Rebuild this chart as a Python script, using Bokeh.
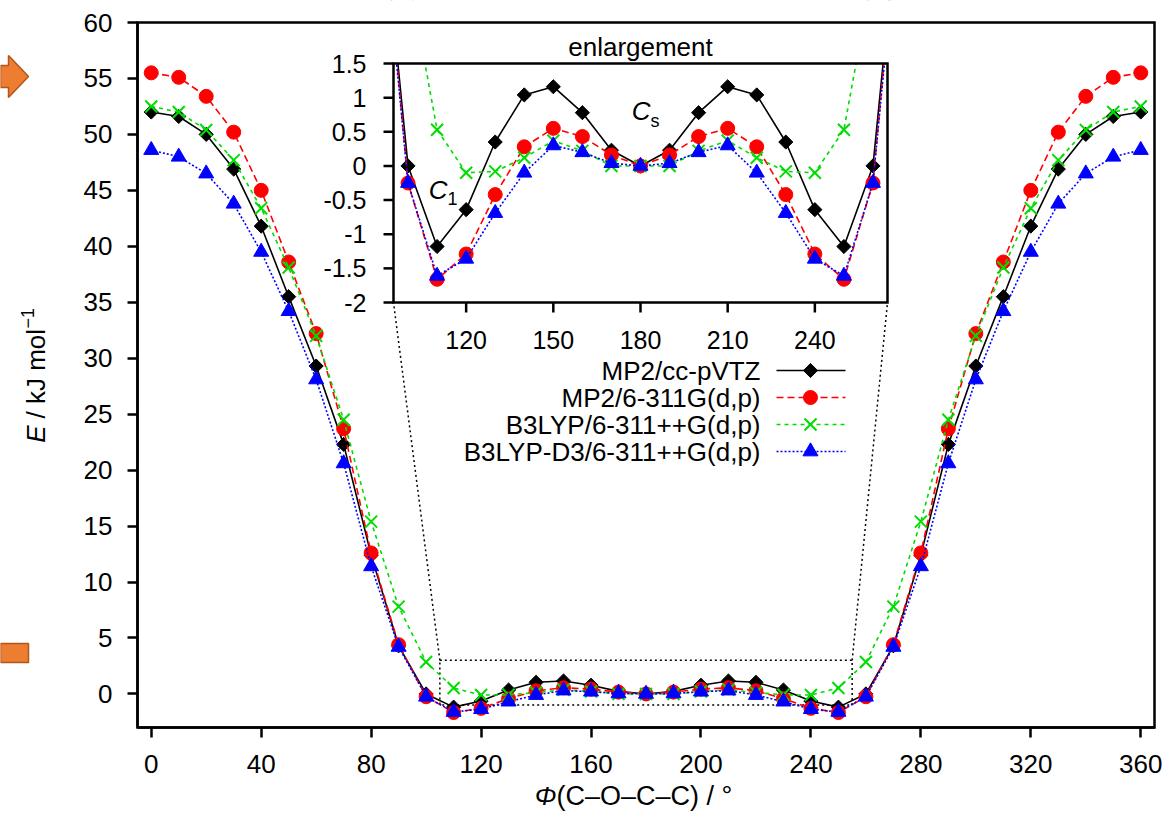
import math
from bokeh.plotting import figure
from bokeh.models import Range1d, FixedTicker
from bokeh.core.properties import value
from bokeh.embed import file_html
from bokeh.resources import INLINE

# ---------------- data ----------------
angle = [0, 10, 20, 30, 40, 50, 60, 70, 80, 90, 100, 110, 120, 130, 140, 150, 160, 170, 180,
         190, 200, 210, 220, 230, 240, 250, 260, 270, 280, 290, 300, 310, 320, 330, 340, 350, 360]

e_mp2_ccpvtz = [52.0, 51.6, 50.0, 46.9, 41.8, 35.5, 29.3, 22.3, 12.4, 4.3, 0.0, -1.18, -0.64, 0.35, 1.04, 1.16, 0.78, 0.23, 0.0,
                0.23, 0.78, 1.16, 1.04, 0.35, -0.64, -1.18, 0.0, 4.3, 12.4, 22.3, 29.3, 35.5, 41.8, 46.9, 50.0, 51.6, 52.0]
e_mp2_6311 = [55.5, 55.1, 53.4, 50.2, 45.0, 38.6, 32.2, 23.7, 12.6, 4.4, -0.25, -1.66, -1.29, -0.42, 0.28, 0.55, 0.43, 0.16, 0.0,
              0.16, 0.43, 0.55, 0.28, -0.42, -1.29, -1.66, -0.25, 4.4, 12.6, 23.7, 32.2, 38.6, 45.0, 50.2, 53.4, 55.1, 55.5]
e_b3lyp = [52.5, 52.0, 50.4, 47.7, 43.4, 38.1, 32.0, 24.5, 15.4, 7.8, 2.85, 0.53, -0.1, -0.08, 0.12, 0.37, 0.22, 0.0, 0.0,
           0.0, 0.22, 0.37, 0.12, -0.08, -0.1, 0.53, 2.85, 7.8, 15.4, 24.5, 32.0, 38.1, 43.4, 47.7, 50.4, 52.0, 52.5]
e_b3lyp_d3 = [48.6, 48.0, 46.5, 43.8, 39.5, 34.2, 28.1, 20.6, 11.4, 4.2, -0.25, -1.61, -1.36, -0.69, -0.1, 0.3, 0.2, 0.04, 0.0,
              0.04, 0.2, 0.3, -0.1, -0.69, -1.36, -1.61, -0.25, 4.2, 11.4, 20.6, 28.1, 34.2, 39.5, 43.8, 46.5, 48.0, 48.6]

series_names = ["MP2/cc-pVTZ", "MP2/6-311G(d,p)", "B3LYP/6-311++G(d,p)", "B3LYP-D3/6-311++G(d,p)"]

main_x_ticks = [0, 40, 80, 120, 160, 200, 240, 280, 320, 360]
main_y_ticks = [0, 5, 10, 15, 20, 25, 30, 35, 40, 45, 50, 55, 60]
inset_x_ticks = [120, 150, 180, 210, 240]
inset_x_labels = ["120", "150", "180", "210", "240"]
inset_y_ticks = [-2, -1.5, -1, -0.5, 0, 0.5, 1, 1.5]
inset_y_labels = ["-2", "-1.5", "-1", "-0.5", "0", "0.5", "1", "1.5"]

zoom_box_x = [105, 255]
zoom_box_y = [-1, 3]

# ---------------- styles ----------------
FONT = "Liberation Sans"
styles = [
    dict(color="#000000", dash="solid", marker="square", angle=math.pi / 4, size=10),
    dict(color="#FF0000", dash="7 4", marker="circle", angle=0, size=14),
    dict(color="#00DD00", dash="4 4", marker="x", angle=0, size=17),
    dict(color="#0000FF", dash="2 2", marker="triangle", angle=0, size=15),
]
series = [e_mp2_ccpvtz, e_mp2_6311, e_b3lyp, e_b3lyp_d3]

# ---------------- layout (page pixels; the canvas starts at the page origin) ----------------
CW, CH = 1168, 816                   # canvas = plotting frame
FL, FT, FW, FH = 137, 22, 1017, 705  # main axes box
X0, X1, Y0, Y1 = -5, 365, -3, 60
IL, IT, IW, IH = 393, 63, 494, 239   # inset box
IX0, IX1, IY0, IY1 = 95, 265, -2, 1.5

SX = (X1 - X0) / FW
SY = (Y1 - Y0) / FH


def mx(px):
    return X0 + (px - FL) * SX


def my(py):
    return Y1 - (py - FT) * SY


def ix(px):
    return IX0 + (px - IL) / IW * (IX1 - IX0)


def iy(py):
    return IY1 - (py - IT) / IH * (IY1 - IY0)


p = figure(frame_width=CW, frame_height=CH,
           x_range=Range1d(mx(0), mx(CW)), y_range=Range1d(my(CH), my(0)),
           output_backend="svg", toolbar_location=None, title=None, min_border=0)
p.background_fill_color = "white"
p.border_fill_color = "white"
p.outline_line_color = None
p.grid.visible = False

# Bokeh axes pinned to the edges of the main box
p.xaxis.fixed_location = Y0
p.yaxis.fixed_location = X0
p.xaxis.bounds = (X0, X1)
p.yaxis.bounds = (Y0, Y1)
p.xaxis.ticker = FixedTicker(ticks=main_x_ticks)
p.yaxis.ticker = FixedTicker(ticks=main_y_ticks)
for ax in list(p.xaxis) + list(p.yaxis):
    ax.axis_line_width = 2.5
    ax.axis_line_color = "black"
    ax.major_tick_line_width = 2.5
    ax.major_tick_line_color = "black"
    ax.major_tick_out = 10
    ax.major_tick_in = 0
    ax.minor_tick_line_color = None
    ax.major_label_text_font = FONT
    ax.major_label_text_font_size = "26px"
    ax.major_label_text_color = "black"
p.xaxis.major_label_standoff = 17
p.yaxis.major_label_standoff = 15

# inset coordinate system: ranges chosen so that the inset data window maps onto the inset box
p.extra_x_ranges = {"ix": Range1d(ix(0), ix(CW))}
p.extra_y_ranges = {"iy": Range1d(iy(CH), iy(0))}
INS = dict(x_range_name="ix", y_range_name="iy")


def draw_series(extra):
    for ys, st in zip(series, styles):
        p.line(angle, ys, line_color=st["color"], line_width=1.6, line_dash=st["dash"], **extra)
        if st["marker"] == "x":
            p.scatter(angle, ys, marker="x", size=st["size"], line_color=st["color"], line_width=2, **extra)
        else:
            p.scatter(angle, ys, marker=st["marker"], size=st["size"], angle=st["angle"],
                      fill_color=st["color"], line_color=st["color"], line_width=1, **extra)


# 1) inset data
draw_series(INS)

# 2) white masks around the inset box (hide inset curves outside the box); they reach past the canvas
E = 60
p.quad(left=[mx(-E), mx(IL + IW), mx(-E), mx(-E)], right=[mx(IL), mx(CW + E), mx(CW + E), mx(CW + E)],
       bottom=[my(CH + E), my(CH + E), my(IT), my(CH + E)], top=[my(-E), my(-E), my(-E), my(IT + IH)],
       fill_color="white", line_color=None)

# 3) zoom rectangle and connectors
dot = dict(line_color="black", line_width=1.5, line_dash="2 3")
p.line([zoom_box_x[0], zoom_box_x[1], zoom_box_x[1], zoom_box_x[0], zoom_box_x[0]],
       [zoom_box_y[1], zoom_box_y[1], zoom_box_y[0], zoom_box_y[0], zoom_box_y[1]], **dot)
p.line([zoom_box_x[0], mx(IL)], [zoom_box_y[1], my(IT + IH)], **dot)
p.line([zoom_box_x[1], mx(IL + IW)], [zoom_box_y[1], my(IT + IH)], **dot)

# 4) main data and main box outline
draw_series({})
p.quad(left=[X0], right=[X1], bottom=[Y0], top=[Y1], fill_color=None, line_color="black",
       line_width=2.5, line_join="miter")

# 5) inset frame, ticks and labels
p.quad(left=[IX0], right=[IX1], bottom=[IY0], top=[IY1], fill_color=None, line_color="black",
       line_width=2.5, line_join="miter", **INS)
p.segment(x0=inset_x_ticks, y0=[IY0] * len(inset_x_ticks), x1=inset_x_ticks,
          y1=[iy(IT + IH + 10)] * len(inset_x_ticks), line_color="black", line_width=2.5, **INS)
p.segment(x0=[IX0] * len(inset_y_ticks), y0=inset_y_ticks, x1=[ix(IL - 10)] * len(inset_y_ticks),
          y1=inset_y_ticks, line_color="black", line_width=2.5, **INS)
txt = dict(text_font=value(FONT), text_color="black")
p.text(x=inset_x_ticks, y=[iy(339)] * len(inset_x_ticks), text=inset_x_labels,
       text_align="center", text_baseline="middle", text_font_size="25px", **txt, **INS)
p.text(x=[ix(IL - 27)] * len(inset_y_ticks), y=inset_y_ticks, text=inset_y_labels,
       text_align="right", text_baseline="middle", text_font_size="25px", **txt, **INS)
p.text(x=[(IX0 + IX1) / 2], y=[iy(46)], text=["enlargement"], text_align="center",
       text_baseline="middle", text_font_size="26px", **txt, **INS)
# C1 and Cs annotations
p.text(x=[ix(447), ix(650)], y=[iy(189), iy(110)], text=["C", "C"], text_align="right",
       text_baseline="middle", text_font_size="26px", text_font_style="italic", **txt, **INS)
p.text(x=[ix(447), ix(650)], y=[iy(198), iy(120)], text=["1", "s"], text_align="left",
       text_baseline="middle", text_font_size="18px", **txt, **INS)

# 6) legend (gnuplot style: text left, sample right)
legend_rows = [370, 397, 424, 451]
for name, st, row in zip(series_names, styles, legend_rows):
    p.text(x=[mx(760)], y=[my(row)], text=[name], text_align="right", text_baseline="middle",
           text_font_size="26px", **txt)
    p.line([mx(776), mx(845)], [my(row), my(row)], line_color=st["color"], line_width=1.6,
           line_dash=st["dash"])
    if st["marker"] == "x":
        p.scatter([mx(810)], [my(row)], marker="x", size=st["size"], line_color=st["color"], line_width=2)
    else:
        p.scatter([mx(810)], [my(row)], marker=st["marker"], size=st["size"], angle=st["angle"],
                  fill_color=st["color"], line_color=st["color"])

# 7) axis titles
p.text(x=[mx(35)], y=[my(425)], text=["E"], angle=math.pi / 2, text_align="right",
       text_baseline="middle", text_font_size="26px", text_font_style="italic", **txt)
p.text(x=[mx(35)], y=[my(418)], text=["/ kJ mol"], angle=math.pi / 2, text_align="left",
       text_baseline="middle", text_font_size="26px", **txt)
p.text(x=[mx(27)], y=[my(328)], text=["\u22121"], angle=math.pi / 2, text_align="left",
       text_baseline="middle", text_font_size="18px", **txt)
p.text(x=[mx(556)], y=[my(795)], text=["\u03a6"], text_align="right", text_baseline="middle",
       text_font_size="26px", text_font_style="italic", **txt)
p.text(x=[mx(556)], y=[my(795)], text=["(C\u2013O\u2013C\u2013C) / \u00b0"], text_align="left",
       text_baseline="middle", text_font_size="27px", **txt)

# 8) decorative orange shapes at the far left
p.patch([mx(0), mx(8), mx(8), mx(28), mx(8), mx(8), mx(0)],
        [my(65), my(65), my(55), my(76), my(97), my(87), my(87)],
        fill_color="#ED7D31", line_color="#B0571C", line_width=1.5)
p.patch([mx(0), mx(28), mx(28), mx(0)], [my(643), my(643), my(662), my(662)],
        fill_color="#ED7D31", line_color="#B0571C", line_width=1.5)

open("out.html", "w").write(file_html(p, INLINE))
